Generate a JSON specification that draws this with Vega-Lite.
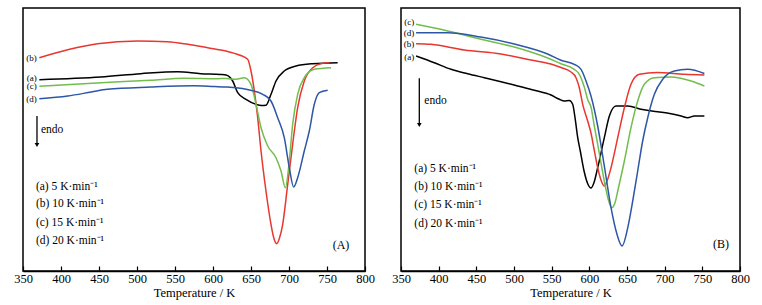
{
  "$schema": "https://vega.github.io/schema/vega-lite/v6.json",
  "padding": {"left": 12, "top": 7, "right": 5, "bottom": 5},
  "bounds": "flush",
  "spacing": 36,
  "background": "white",
  "config": {
    "view": {"stroke": "black", "strokeWidth": 1.5},
    "axis": {
      "values": [350, 375, 400, 425, 450, 475, 500, 525, 550, 575, 600, 625, 650, 675, 700, 725, 750, 775, 800],
      "tickSize": {"condition": {"test": "datum.value % 50 === 0", "value": -5}, "value": -3},
      "labelExpr": "datum.value % 50 === 0 ? datum.label : ''",
      "tickColor": "black",
      "tickWidth": 1.2,
      "domainColor": "black",
      "domainWidth": 1.5,
      "labelColor": "black",
      "labelFont": "Liberation Serif",
      "labelFontSize": 12.5,
      "labelFlush": false,
      "labelOverlap": false,
      "labelPadding": 6.5,
      "titleFont": "Liberation Serif",
      "titleFontSize": 12.5,
      "titleFontWeight": "normal",
      "titleColor": "black",
      "titlePadding": 1,
      "grid": false
    },
    "text": {"font": "Liberation Serif", "color": "black"}
  },
  "datasets": {
    "linesA": [
      {"T": 371.5, "y": 191.3, "s": "a"}, {"T": 452.6, "y": 194, "s": "a"}, {"T": 505, "y": 197.3, "s": "a"}, {"T": 553.5, "y": 199.3, "s": "a"}, {"T": 584, "y": 197.3, "s": "a"}, {"T": 610, "y": 196.5, "s": "a"}, {"T": 617.1, "y": 196, "s": "a"}, {"T": 625.9, "y": 190, "s": "a"}, {"T": 632.5, "y": 178.3, "s": "a"}, {"T": 643.4, "y": 171.7, "s": "a"}, {"T": 656.6, "y": 166.7, "s": "a"}, {"T": 664, "y": 165.5, "s": "a"}, {"T": 669.7, "y": 165.7, "s": "a"}, {"T": 676.3, "y": 176.7, "s": "a"}, {"T": 682.9, "y": 190, "s": "a"}, {"T": 693.8, "y": 200, "s": "a"}, {"T": 709.2, "y": 205, "s": "a"}, {"T": 731.2, "y": 207.3, "s": "a"}, {"T": 764, "y": 208.3, "s": "a"},
      {"T": 371.5, "y": 213.3, "s": "b"}, {"T": 410, "y": 221.5, "s": "b"}, {"T": 448, "y": 227.3, "s": "b"}, {"T": 501, "y": 230, "s": "b"}, {"T": 540, "y": 229.3, "s": "b"}, {"T": 567, "y": 226.7, "s": "b"}, {"T": 593, "y": 223.3, "s": "b"}, {"T": 617.1, "y": 220, "s": "b"}, {"T": 634.6, "y": 216, "s": "b"}, {"T": 645.6, "y": 211.7, "s": "b"}, {"T": 650, "y": 200, "s": "b"}, {"T": 654.4, "y": 180, "s": "b"}, {"T": 658.8, "y": 153.3, "s": "b"}, {"T": 663.2, "y": 120, "s": "b"}, {"T": 669.7, "y": 80, "s": "b"}, {"T": 676.3, "y": 46.7, "s": "b"}, {"T": 680, "y": 33, "s": "b"}, {"T": 683.8, "y": 27.3, "s": "b"}, {"T": 687.5, "y": 33, "s": "b"}, {"T": 691.7, "y": 46.7, "s": "b"}, {"T": 698.3, "y": 86.7, "s": "b"}, {"T": 704.8, "y": 126.7, "s": "b"}, {"T": 711.4, "y": 163.3, "s": "b"}, {"T": 720.1, "y": 190, "s": "b"}, {"T": 731.2, "y": 203.3, "s": "b"}, {"T": 744.3, "y": 207.7, "s": "b"}, {"T": 753, "y": 208.3, "s": "b"},
      {"T": 371.5, "y": 184.7, "s": "c"}, {"T": 452.6, "y": 188.3, "s": "c"}, {"T": 518, "y": 190.7, "s": "c"}, {"T": 562, "y": 192.7, "s": "c"}, {"T": 606, "y": 192.3, "s": "c"}, {"T": 617.1, "y": 192.5, "s": "c"}, {"T": 630.3, "y": 191.7, "s": "c"}, {"T": 641.2, "y": 193.3, "s": "c"}, {"T": 650, "y": 186.7, "s": "c"}, {"T": 656.6, "y": 166.7, "s": "c"}, {"T": 663.2, "y": 143.3, "s": "c"}, {"T": 672, "y": 125, "s": "c"}, {"T": 682.9, "y": 113.3, "s": "c"}, {"T": 689.5, "y": 100, "s": "c"}, {"T": 695.2, "y": 83.3, "s": "c"}, {"T": 700.4, "y": 110, "s": "c"}, {"T": 704.8, "y": 146.7, "s": "c"}, {"T": 711.4, "y": 176.7, "s": "c"}, {"T": 720.1, "y": 193.3, "s": "c"}, {"T": 733.3, "y": 201.7, "s": "c"}, {"T": 755.3, "y": 203.3, "s": "c"},
      {"T": 371.5, "y": 172.3, "s": "d"}, {"T": 408.8, "y": 175, "s": "d"}, {"T": 440, "y": 179, "s": "d"}, {"T": 461, "y": 181.7, "s": "d"}, {"T": 518, "y": 184, "s": "d"}, {"T": 575, "y": 185.3, "s": "d"}, {"T": 601.7, "y": 184.5, "s": "d"}, {"T": 617.1, "y": 184, "s": "d"}, {"T": 643.4, "y": 181.7, "s": "d"}, {"T": 665.4, "y": 176.7, "s": "d"}, {"T": 676.3, "y": 170, "s": "d"}, {"T": 685.1, "y": 153.3, "s": "d"}, {"T": 693.8, "y": 133.3, "s": "d"}, {"T": 700.4, "y": 103.3, "s": "d"}, {"T": 706.1, "y": 84, "s": "d"}, {"T": 711.4, "y": 93.3, "s": "d"}, {"T": 720.1, "y": 120, "s": "d"}, {"T": 726.7, "y": 140, "s": "d"}, {"T": 733.3, "y": 166.7, "s": "d"}, {"T": 739.9, "y": 178.3, "s": "d"}, {"T": 750.9, "y": 180.7, "s": "d"}
    ],
    "linesB": [
      {"T": 370, "y": 215, "s": "a"}, {"T": 394.2, "y": 208.3, "s": "a"}, {"T": 416.4, "y": 201.7, "s": "a"}, {"T": 438.5, "y": 197.3, "s": "a"}, {"T": 460.6, "y": 193.3, "s": "a"}, {"T": 482.7, "y": 189.3, "s": "a"}, {"T": 504.9, "y": 185, "s": "a"}, {"T": 527, "y": 180.7, "s": "a"}, {"T": 549.1, "y": 176, "s": "a"}, {"T": 560.2, "y": 171.7, "s": "a"}, {"T": 566.8, "y": 170, "s": "a"}, {"T": 573.4, "y": 170.5, "s": "a"}, {"T": 577.9, "y": 166.7, "s": "a"}, {"T": 581, "y": 153.3, "s": "a"}, {"T": 584.6, "y": 133.3, "s": "a"}, {"T": 588, "y": 120, "s": "a"}, {"T": 593, "y": 100, "s": "a"}, {"T": 598, "y": 87, "s": "a"}, {"T": 602.2, "y": 83, "s": "a"}, {"T": 606, "y": 88, "s": "a"}, {"T": 611.1, "y": 103.3, "s": "a"}, {"T": 619.9, "y": 133.3, "s": "a"}, {"T": 626.6, "y": 155, "s": "a"}, {"T": 635.4, "y": 165, "s": "a"}, {"T": 651, "y": 165, "s": "a"}, {"T": 668.6, "y": 161.7, "s": "a"}, {"T": 690.7, "y": 159.3, "s": "a"}, {"T": 708.4, "y": 157.3, "s": "a"}, {"T": 721.7, "y": 155, "s": "a"}, {"T": 730.6, "y": 153.3, "s": "a"}, {"T": 739.4, "y": 155, "s": "a"}, {"T": 752.7, "y": 155, "s": "a"},
      {"T": 370, "y": 227.3, "s": "b"}, {"T": 389.8, "y": 226.7, "s": "b"}, {"T": 434, "y": 221, "s": "b"}, {"T": 482.7, "y": 217, "s": "b"}, {"T": 522.6, "y": 211, "s": "b"}, {"T": 549, "y": 207, "s": "b"}, {"T": 562.4, "y": 203.5, "s": "b"}, {"T": 575.7, "y": 199, "s": "b"}, {"T": 582.3, "y": 193.3, "s": "b"}, {"T": 586.7, "y": 183.3, "s": "b"}, {"T": 591.2, "y": 166.7, "s": "b"}, {"T": 597.8, "y": 150, "s": "b"}, {"T": 602.2, "y": 138, "s": "b"}, {"T": 606, "y": 123, "s": "b"}, {"T": 611.1, "y": 103.3, "s": "b"}, {"T": 615, "y": 92, "s": "b"}, {"T": 619.9, "y": 85, "s": "b"}, {"T": 624, "y": 91, "s": "b"}, {"T": 628.8, "y": 103.3, "s": "b"}, {"T": 637.7, "y": 133.3, "s": "b"}, {"T": 646.5, "y": 163.3, "s": "b"}, {"T": 655.3, "y": 186.7, "s": "b"}, {"T": 666.4, "y": 196.7, "s": "b"}, {"T": 690, "y": 198.5, "s": "b"}, {"T": 726, "y": 196.7, "s": "b"}, {"T": 752.7, "y": 196, "s": "b"},
      {"T": 370, "y": 246.7, "s": "c"}, {"T": 412, "y": 240, "s": "c"}, {"T": 456, "y": 231.7, "s": "c"}, {"T": 500.4, "y": 224, "s": "c"}, {"T": 544.7, "y": 213, "s": "c"}, {"T": 562.4, "y": 207.3, "s": "c"}, {"T": 580, "y": 201.7, "s": "c"}, {"T": 586.7, "y": 196.7, "s": "c"}, {"T": 593.3, "y": 184, "s": "c"}, {"T": 598, "y": 171, "s": "c"}, {"T": 602.2, "y": 164, "s": "c"}, {"T": 606.6, "y": 145, "s": "c"}, {"T": 611.1, "y": 126.7, "s": "c"}, {"T": 619.9, "y": 90, "s": "c"}, {"T": 625, "y": 72, "s": "c"}, {"T": 629.7, "y": 63.3, "s": "c"}, {"T": 634, "y": 68, "s": "c"}, {"T": 637.7, "y": 80, "s": "c"}, {"T": 646.5, "y": 110, "s": "c"}, {"T": 655.3, "y": 143.3, "s": "c"}, {"T": 664.2, "y": 170, "s": "c"}, {"T": 673, "y": 186.7, "s": "c"}, {"T": 686.3, "y": 193.3, "s": "c"}, {"T": 708.4, "y": 194, "s": "c"}, {"T": 735, "y": 190, "s": "c"}, {"T": 752.7, "y": 185, "s": "c"},
      {"T": 370, "y": 238.3, "s": "d"}, {"T": 412, "y": 238.3, "s": "d"}, {"T": 456, "y": 234, "s": "d"}, {"T": 500.4, "y": 227, "s": "d"}, {"T": 544.7, "y": 217, "s": "d"}, {"T": 562.4, "y": 210.7, "s": "d"}, {"T": 580, "y": 206.7, "s": "d"}, {"T": 589, "y": 201.7, "s": "d"}, {"T": 595.6, "y": 190, "s": "d"}, {"T": 602.2, "y": 175, "s": "d"}, {"T": 611.1, "y": 145, "s": "d"}, {"T": 619.9, "y": 105, "s": "d"}, {"T": 628.8, "y": 63.3, "s": "d"}, {"T": 636.7, "y": 36.7, "s": "d"}, {"T": 643.4, "y": 25, "s": "d"}, {"T": 651, "y": 43.3, "s": "d"}, {"T": 657.6, "y": 70, "s": "d"}, {"T": 664.2, "y": 100, "s": "d"}, {"T": 670.8, "y": 130, "s": "d"}, {"T": 677.5, "y": 153.3, "s": "d"}, {"T": 686.3, "y": 176.7, "s": "d"}, {"T": 697.4, "y": 191.7, "s": "d"}, {"T": 712.8, "y": 200, "s": "d"}, {"T": 730.6, "y": 201.7, "s": "d"}, {"T": 752.7, "y": 197.5, "s": "d"}
    ],
    "tagsA": [
      {"T": 368, "y": 213.3, "label": "(b)"},
      {"T": 368, "y": 193.3, "label": "(a)"},
      {"T": 368, "y": 184.7, "label": "(c)"},
      {"T": 368, "y": 171.7, "label": "(d)"}
    ],
    "tagsB": [
      {"T": 367.5, "y": 249.3, "label": "(c)"},
      {"T": 367.5, "y": 238.3, "label": "(d)"},
      {"T": 367.5, "y": 227.3, "label": "(b)"},
      {"T": 367.5, "y": 214, "label": "(a)"}
    ],
    "legA": [
      {"T": 367, "y": 84, "label": "(a) 5 K·min⁻¹"},
      {"T": 367, "y": 66.7, "label": "(b) 10 K·min⁻¹"},
      {"T": 367, "y": 48.3, "label": "(c) 15 K·min⁻¹"},
      {"T": 367, "y": 30, "label": "(d) 20 K·min⁻¹"},
      {"T": 373.7, "y": 140.7, "label": "endo"}
    ],
    "legB": [
      {"T": 367.7, "y": 101.7, "label": "(a) 5 K·min⁻¹"},
      {"T": 367.7, "y": 84.3, "label": "(b) 10 K·min⁻¹"},
      {"T": 367.7, "y": 65.7, "label": "(c) 15 K·min⁻¹"},
      {"T": 367.7, "y": 47.3, "label": "(d) 20 K·min⁻¹"},
      {"T": 381, "y": 170, "label": "endo"}
    ],
    "arrowA": [{"T": 368.4, "y": 155, "y2": 126}],
    "arrowB": [{"T": 374.3, "y": 192.7, "y2": 146}],
    "panelA": [{"T": 768.4, "y": 25.7, "label": "(A)"}],
    "panelB": [{"T": 774.8, "y": 26.7, "label": "(B)"}]
  },
  "hconcat": [
    {
      "width": 342,
      "height": 263,
      "encoding": {
        "x": {"field": "T", "type": "quantitative", "scale": {"domain": [350, 800], "nice": false, "zero": false}, "title": "Temperature / K"},
        "y": {"field": "y", "type": "quantitative", "scale": {"domain": [0, 263], "nice": false, "zero": false}, "axis": null}
      },
      "layer": [
        {
          "data": {"name": "linesA"},
          "mark": {"type": "line", "strokeWidth": 1.5, "interpolate": "monotone"},
          "encoding": {
            "color": {"field": "s", "type": "nominal", "scale": {"domain": ["a", "b", "c", "d"], "range": ["#000000", "#e8372f", "#72bd4e", "#2d56a6"]}, "legend": null}
          }
        },
        {
          "data": {"name": "tagsA"},
          "mark": {"type": "text", "align": "right", "baseline": "middle", "fontSize": 9},
          "encoding": {"text": {"field": "label"}}
        },
        {
          "data": {"name": "legA"},
          "mark": {"type": "text", "align": "left", "baseline": "middle", "fontSize": 11.5},
          "encoding": {"text": {"field": "label"}}
        },
        {
          "data": {"name": "arrowA"},
          "mark": {"type": "rule", "color": "black", "strokeWidth": 1.3},
          "encoding": {"y2": {"field": "y2"}}
        },
        {
          "data": {"name": "arrowA"},
          "mark": {"type": "point", "shape": "triangle-down", "filled": true, "color": "black", "size": 22, "opacity": 1},
          "encoding": {"y": {"field": "y2", "type": "quantitative"}}
        },
        {
          "data": {"name": "panelA"},
          "mark": {"type": "text", "align": "center", "baseline": "middle", "fontSize": 12},
          "encoding": {"text": {"field": "label"}}
        }
      ]
    },
    {
      "width": 339,
      "height": 263,
      "encoding": {
        "x": {"field": "T", "type": "quantitative", "scale": {"domain": [350, 800], "nice": false, "zero": false}, "title": "Temperature / K"},
        "y": {"field": "y", "type": "quantitative", "scale": {"domain": [0, 263], "nice": false, "zero": false}, "axis": null}
      },
      "layer": [
        {
          "data": {"name": "linesB"},
          "mark": {"type": "line", "strokeWidth": 1.5, "interpolate": "monotone"},
          "encoding": {
            "color": {"field": "s", "type": "nominal", "scale": {"domain": ["a", "b", "c", "d"], "range": ["#000000", "#e8372f", "#72bd4e", "#2d56a6"]}, "legend": null}
          }
        },
        {
          "data": {"name": "tagsB"},
          "mark": {"type": "text", "align": "right", "baseline": "middle", "fontSize": 9},
          "encoding": {"text": {"field": "label"}}
        },
        {
          "data": {"name": "legB"},
          "mark": {"type": "text", "align": "left", "baseline": "middle", "fontSize": 11.5},
          "encoding": {"text": {"field": "label"}}
        },
        {
          "data": {"name": "arrowB"},
          "mark": {"type": "rule", "color": "black", "strokeWidth": 1.3},
          "encoding": {"y2": {"field": "y2"}}
        },
        {
          "data": {"name": "arrowB"},
          "mark": {"type": "point", "shape": "triangle-down", "filled": true, "color": "black", "size": 22, "opacity": 1},
          "encoding": {"y": {"field": "y2", "type": "quantitative"}}
        },
        {
          "data": {"name": "panelB"},
          "mark": {"type": "text", "align": "center", "baseline": "middle", "fontSize": 12},
          "encoding": {"text": {"field": "label"}}
        }
      ]
    }
  ]
}
